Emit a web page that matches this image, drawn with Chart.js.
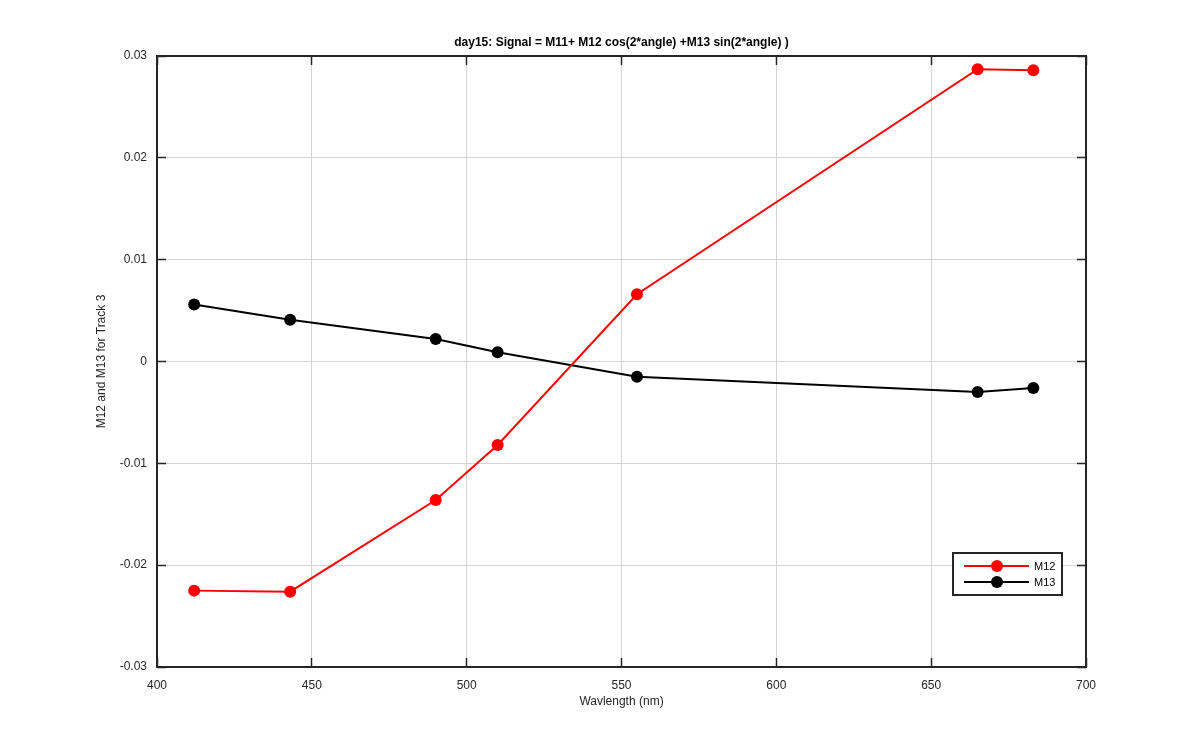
<!DOCTYPE html>
<html>
<head>
<meta charset="utf-8">
<script src="https://cdn.jsdelivr.net/npm/chart.js@4"></script>
<style>
    body { margin: 0; background: #fff; }
    canvas { display: block; }
</style>
</head>
<body>
<canvas id="wavChart" width="1200" height="750"></canvas>
<script>
    // Data
    const wavelengths = [412, 443, 490, 510, 555, 665, 683];
    const m12 = [-0.0225, -0.0226, -0.0136, -0.0082, 0.0066, 0.0287, 0.0286];
    const m13 = [0.0056, 0.0041, 0.0022, 0.0009, -0.0015, -0.0030, -0.0026];
    const xTicks = [400, 450, 500, 550, 600, 650, 700];
    const yTicks = [-0.03, -0.02, -0.01, 0, 0.01, 0.02, 0.03];

    const titleText = 'day15: Signal = M11+ M12 cos(2*angle) +M13 sin(2*angle) )';
    const axisColor = '#262626';
    const fontFamily = '"Liberation Sans", Arial, sans-serif';

    function toPoints(xs, ys) {
        return xs.map((x, i) => ({ x: x, y: ys[i] }));
    }

    // same pixel snapping as the grid lines
    function snap(p) {
        return Math.round(p - 0.5) + 0.5;
    }

    // box, inward ticks, title and legend in MATLAB style
    const matlabFrame = {
        id: 'matlabFrame',
        afterDraw(chart) {
            const c = chart.ctx;
            const a = chart.chartArea;
            const xs = chart.scales.x;
            const ys = chart.scales.y;
            const tl = 9;
            c.save();
            c.strokeStyle = axisColor;
            c.lineWidth = 1.5;
            c.beginPath();
            xTicks.forEach(v => {
                const px = snap(xs.getPixelForValue(v));
                c.moveTo(px, a.bottom); c.lineTo(px, a.bottom - tl);
                c.moveTo(px, a.top); c.lineTo(px, a.top + tl);
            });
            yTicks.forEach(v => {
                const py = snap(ys.getPixelForValue(v));
                c.moveTo(a.left, py); c.lineTo(a.left + tl, py);
                c.moveTo(a.right, py); c.lineTo(a.right - tl, py);
            });
            c.stroke();
            c.lineWidth = 2;
            c.strokeRect(a.left, a.top, a.right - a.left, a.bottom - a.top);

            // title centred over the plot area
            c.fillStyle = '#000';
            c.font = 'bold 12px ' + fontFamily;
            c.textAlign = 'center';
            c.textBaseline = 'middle';
            c.fillText(titleText, (a.left + a.right) / 2, 43);

            // legend box, lower right
            const lx = 953, ly = 553, lw = 109, lh = 42;
            c.fillStyle = '#fff';
            c.fillRect(lx, ly, lw, lh);
            c.strokeStyle = axisColor;
            c.lineWidth = 2;
            c.strokeRect(lx, ly, lw, lh);
            c.font = '11px ' + fontFamily;
            c.textAlign = 'left';
            chart.data.datasets.forEach((ds, i) => {
                const ry = ly + 13 + i * 16;
                c.strokeStyle = ds.borderColor;
                c.lineWidth = 2;
                c.beginPath();
                c.moveTo(lx + 11, ry);
                c.lineTo(lx + 76, ry);
                c.stroke();
                c.fillStyle = ds.borderColor;
                c.beginPath();
                c.arc(lx + 44, ry, 6, 0, Math.PI * 2);
                c.fill();
                c.fillStyle = '#000';
                c.fillText(ds.label, lx + 81, ry + 1);
            });
            c.restore();
        }
    };

    new Chart(document.getElementById('wavChart'), {
        type: 'line',
        data: {
            datasets: [{
                label: 'M12',
                data: toPoints(wavelengths, m12),
                borderColor: '#ff0000',
                backgroundColor: '#ff0000',
                borderWidth: 2,
                pointRadius: 6,
                pointBorderWidth: 0,
                tension: 0
            }, {
                label: 'M13',
                data: toPoints(wavelengths, m13),
                borderColor: '#000000',
                backgroundColor: '#000000',
                borderWidth: 2,
                pointRadius: 6,
                pointBorderWidth: 0,
                tension: 0
            }]
        },
        options: {
            responsive: false,
            animation: false,
            layout: { padding: { top: 56, right: 114, left: 0, bottom: 0 } },
            plugins: {
                legend: { display: false },
                title: { display: false },
                tooltip: { enabled: false }
            },
            scales: {
                x: {
                    type: 'linear',
                    min: 400,
                    max: 700,
                    afterBuildTicks: s => { s.ticks = xTicks.map(v => ({ value: v })); },
                    afterFit: s => { s.height = 83; },
                    grid: { color: '#d4d4d4', drawTicks: false },
                    border: { display: false },
                    ticks: {
                        color: axisColor,
                        padding: 11,
                        maxRotation: 0,
                        font: { family: fontFamily, size: 12 }
                    },
                    title: {
                        display: true,
                        text: 'Wavlength (nm)',
                        color: axisColor,
                        padding: { top: 0, bottom: 41 },
                        font: { family: fontFamily, size: 12 }
                    }
                },
                y: {
                    min: -0.03,
                    max: 0.03,
                    afterBuildTicks: s => { s.ticks = yTicks.map(v => ({ value: v })); },
                    afterFit: s => { s.width = 157; },
                    grid: { color: '#d4d4d4', drawTicks: false },
                    border: { display: false },
                    ticks: {
                        color: axisColor,
                        padding: 10,
                        font: { family: fontFamily, size: 12 },
                        callback: v => (Math.abs(v) < 1e-9 ? '0' : v.toFixed(2))
                    },
                    title: {
                        display: true,
                        text: 'M12 and M13 for Track 3',
                        color: axisColor,
                        padding: { top: 94, bottom: 0 },
                        font: { family: fontFamily, size: 12 }
                    }
                }
            }
        },
        plugins: [matlabFrame]
    });
</script>
</body>
</html>
